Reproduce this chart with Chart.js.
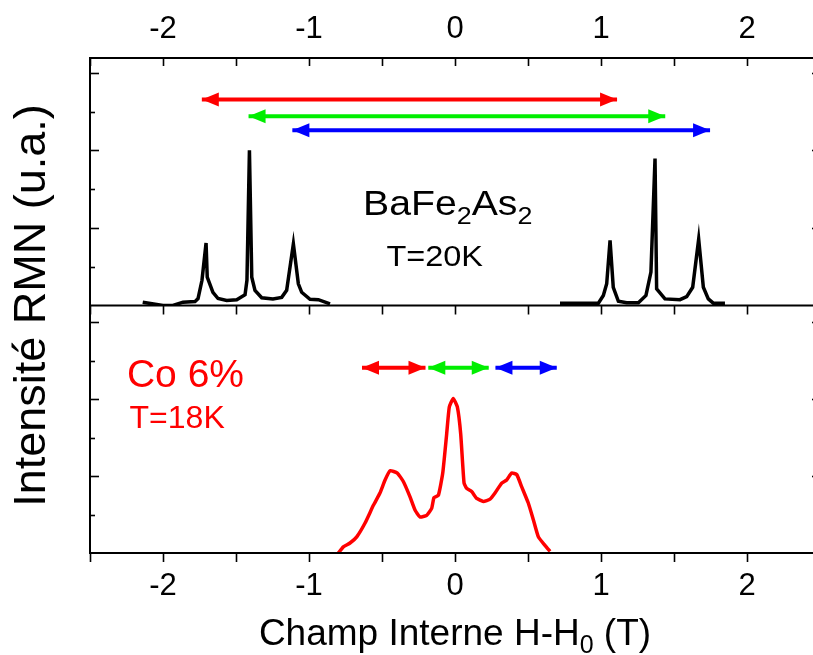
<!DOCTYPE html>
<html>
<head>
<meta charset="utf-8">
<script src="https://cdn.jsdelivr.net/npm/chart.js@4"></script>
<style>
html, body { margin: 0; padding: 0; background: #fff; overflow: hidden; }
#wrap { position: relative; width: 830px; height: 655px; }
</style>
</head>
<body>
<div id="wrap"><canvas id="myChart" width="830" height="655"></canvas></div>
<script>
// BaFe2As2, T=20K (top panel) - null splits the two groups
const bafeField = [-2.139, -2.0, -1.932, -1.863, -1.781, -1.760, -1.733, -1.705, -1.697, -1.658, -1.623, -1.564, -1.495, -1.438, -1.425, -1.408, -1.392, -1.370, -1.324, -1.247, -1.187, -1.153, -1.107, -1.073, -1.050, -0.993, -0.936, -0.856,
    0,
    0.719, 0.982, 1.016, 1.039, 1.062, 1.084, 1.119, 1.176, 1.256, 1.308, 1.342, 1.370, 1.381, 1.438, 1.541, 1.587, 1.628, 1.669, 1.701, 1.735, 1.769, 1.849];
const bafeIntensity = [0.085, 0.0, 0.0, 0.085, 0.10, 0.18, 0.65, 1.61, 0.73, 0.34, 0.18, 0.13, 0.15, 0.28, 0.65, 4.0, 0.73, 0.39, 0.20, 0.17, 0.21, 0.39, 1.59, 0.56, 0.34, 0.16, 0.15, 0.04,
    null,
    0.06, 0.06, 0.26, 0.56, 1.68, 0.47, 0.11, 0.07, 0.07, 0.26, 0.86, 3.79, 0.43, 0.17, 0.15, 0.23, 0.47, 1.71, 0.47, 0.17, 0.06, 0.06];

// Co 6%, T=18K (bottom panel)
const coField = [-0.799, -0.765, -0.719, -0.673, -0.616, -0.559, -0.514, -0.479, -0.445, -0.395, -0.354, -0.308, -0.274, -0.240, -0.194, -0.160, -0.144, -0.114, -0.084, -0.057, -0.039, -0.012, 0.016, 0.039, 0.062, 0.080, 0.114, 0.149, 0.194, 0.240, 0.274, 0.320, 0.354, 0.388, 0.423, 0.457, 0.502, 0.537, 0.571, 0.616, 0.651];
const coIntensity = [0.0, 0.08, 0.13, 0.21, 0.39, 0.62, 0.78, 0.95, 1.07, 1.04, 0.93, 0.73, 0.56, 0.47, 0.49, 0.58, 0.72, 0.75, 1.04, 1.55, 1.90, 2.01, 1.90, 1.55, 0.91, 0.84, 0.80, 0.71, 0.67, 0.70, 0.78, 0.91, 0.95, 1.04, 1.02, 0.86, 0.65, 0.43, 0.21, 0.10, 0.02];

// double arrows
const arrowColors = ['#ff0000', '#00ee00', '#0000ff'];
const topArrowStart = [-1.734, -1.414, -1.114];
const topArrowEnd = [1.11, 1.44, 1.747];
const topArrowLevel = [5.31, 4.88, 4.52];
const botArrowStart = [-0.637, -0.183, 0.277];
const botArrowEnd = [-0.202, 0.231, 0.697];
const botArrowLevel = [2.41, 2.41, 2.41];

const xTicks = [-2, -1, 0, 1, 2];

const FONT = "'Liberation Sans', Arial, Helvetica, sans-serif";

const toPoints = (xs, ys) => xs.map((x, i) => ({x: x, y: ys[i]}));

const datasets = [
    {
        data: toPoints(bafeField, bafeIntensity),
        yAxisID: 'yTop',
        borderColor: '#000',
        borderWidth: 3.5,
        pointRadius: 0,
        tension: 0,
        spanGaps: false
    },
    {
        data: toPoints(coField, coIntensity),
        yAxisID: 'yBot',
        borderColor: '#ff0000',
        borderWidth: 3.5,
        pointRadius: 0,
        tension: 0.15
    }
];

arrowColors.forEach((c, i) => {
    datasets.push({
        arrow: true,
        data: [{x: topArrowStart[i], y: topArrowLevel[i]}, {x: topArrowEnd[i], y: topArrowLevel[i]}],
        yAxisID: 'yTop', borderColor: c, backgroundColor: c, borderWidth: 4, pointRadius: 0
    });
    datasets.push({
        arrow: true,
        data: [{x: botArrowStart[i], y: botArrowLevel[i]}, {x: botArrowEnd[i], y: botArrowLevel[i]}],
        yAxisID: 'yBot', borderColor: c, backgroundColor: c, borderWidth: 4, pointRadius: 0
    });
});

function seg(ctx, x1, y1, x2, y2) {
    ctx.beginPath();
    ctx.moveTo(x1, y1);
    ctx.lineTo(x2, y2);
    ctx.stroke();
}

const arrowHeads = {
    id: 'arrowHeads',
    afterDatasetsDraw(chart) {
        const ctx = chart.ctx;
        chart.data.datasets.forEach((ds, i) => {
            if (!ds.arrow) return;
            const pts = chart.getDatasetMeta(i).data;
            const a = pts[0], b = pts[1];
            ctx.save();
            ctx.fillStyle = ds.borderColor;
            const len = 17, hw = 7;
            ctx.beginPath();
            ctx.moveTo(a.x, a.y);
            ctx.lineTo(a.x + len, a.y - hw);
            ctx.lineTo(a.x + len, a.y + hw);
            ctx.closePath();
            ctx.fill();
            ctx.beginPath();
            ctx.moveTo(b.x, b.y);
            ctx.lineTo(b.x - len, b.y - hw);
            ctx.lineTo(b.x - len, b.y + hw);
            ctx.closePath();
            ctx.fill();
            ctx.restore();
        });
    }
};

// draws text pieces [text, size, dy] one after another, slightly widened
function drawParts(ctx, parts, x0, y0, sx) {
    ctx.save();
    ctx.translate(x0, y0);
    ctx.scale(sx, 1);
    let px = 0;
    parts.forEach(p => {
        ctx.font = p[1] + 'px ' + FONT;
        ctx.fillText(p[0], px, p[2]);
        px += ctx.measureText(p[0]).width;
    });
    ctx.restore();
}

const frame = {
    id: 'frame',
    afterDraw(chart) {
        const {ctx, chartArea: a, scales} = chart;
        const x = scales.x, yt = scales.yTop, yb = scales.yBot;
        const mid = yt.bottom;
        ctx.save();
        ctx.strokeStyle = '#000';
        ctx.lineWidth = 2;
        ctx.strokeRect(a.left, a.top, a.right - a.left, a.bottom - a.top);
        seg(ctx, a.left, mid, a.right, mid);
        ctx.lineWidth = 1.6;
        for (let v = -2.5; v <= 2.5001; v += 0.5) {
            const px = Math.round(x.getPixelForValue(v)) + 0.5;
            seg(ctx, px, a.top, px, a.top + 8);
            seg(ctx, px, mid, px, mid + 9);
            seg(ctx, px, a.bottom, px, a.bottom + 9);
        }
        for (let v = 1; v <= 6; v++) {
            const py = Math.round(yt.getPixelForValue(v)) + 0.5;
            const major = v % 2 === 0;
            seg(ctx, a.left, py, a.left + (major ? 9 : 5), py);
            if (major) seg(ctx, a.right, py, a.right - 8, py);
        }
        for (let v = 0.5; v <= 3; v += 0.5) {
            const py = Math.round(yb.getPixelForValue(v)) + 0.5;
            const major = Number.isInteger(v);
            seg(ctx, a.left, py, a.left + (major ? 9 : 5), py);
            if (major) seg(ctx, a.right, py, a.right - 8, py);
        }
        ctx.restore();

        // labels
        ctx.save();
        ctx.fillStyle = '#000';
        ctx.textBaseline = 'alphabetic';
        ctx.textAlign = 'left';
        drawParts(ctx, [['BaFe', 35, 0], ['2', 24, 9], ['As', 35, 0], ['2', 24, 9]],
            x.getPixelForValue(-0.63), yt.getPixelForValue(2.33), 1.12);
        drawParts(ctx, [['T=20K', 29, 0]],
            x.getPixelForValue(-0.47), yt.getPixelForValue(1.01), 1.12);

        ctx.fillStyle = '#ff0000';
        drawParts(ctx, [['Co 6%', 39, 0]], x.getPixelForValue(-2.247), yb.getPixelForValue(2.16), 1);
        drawParts(ctx, [['T=18K', 32, 0]], x.getPixelForValue(-2.229), yb.getPixelForValue(1.62), 1);

        // x title with subscript
        ctx.fillStyle = '#000';
        const tparts = [['Champ Interne H-H', 37, 0], ['0', 25, 8], [' (T)', 37, 0]];
        let w = 0;
        tparts.forEach(p => { ctx.font = p[1] + 'px ' + FONT; w += ctx.measureText(p[0]).width; });
        drawParts(ctx, tparts, x.getPixelForValue(0) - w / 2, 645, 1);

        // y title
        ctx.translate(33, (a.top + a.bottom) / 2);
        ctx.rotate(-Math.PI / 2);
        ctx.textAlign = 'center';
        ctx.textBaseline = 'middle';
        ctx.font = '45px ' + FONT;
        ctx.fillText('Intensité RMN (u.a.)', 0, 0);
        ctx.restore();
    }
};

const tickOpts = {
    font: {family: FONT, size: 31},
    color: '#000',
    autoSkip: false,
    maxRotation: 0
};
const setXTicks = s => { s.ticks = xTicks.map(v => ({value: v})); };

const ctx = document.getElementById('myChart').getContext('2d');
const myChart = new Chart(ctx, {
    type: 'line',
    data: {datasets: datasets},
    options: {
        responsive: false,
        animation: false,
        devicePixelRatio: 1,
        layout: {padding: {left: 0, right: 10, top: 0, bottom: 0}},
        plugins: {legend: {display: false}, tooltip: {enabled: false}},
        scales: {
            x: {
                type: 'linear', position: 'bottom', min: -2.5, max: 2.5,
                grid: {display: false, drawTicks: false}, border: {display: false},
                ticks: Object.assign({}, tickOpts, {padding: 15}),
                afterBuildTicks: setXTicks,
                afterFit: s => { s.height = 102; }
            },
            x2: {
                type: 'linear', position: 'top', min: -2.5, max: 2.5,
                grid: {display: false, drawTicks: false}, border: {display: false},
                ticks: Object.assign({}, tickOpts, {padding: 10}),
                afterBuildTicks: setXTicks,
                afterFit: s => { s.height = 58; }
            },
            yBot: {
                type: 'linear', position: 'left', stack: 'panels', stackWeight: 1,
                min: 0, max: 3.22,
                grid: {display: false, drawTicks: false}, border: {display: false},
                ticks: {display: false},
                afterFit: s => { s.width = 90; }
            },
            yTop: {
                type: 'linear', position: 'left', stack: 'panels', stackWeight: 1,
                min: 0, max: 6.38,
                grid: {display: false, drawTicks: false}, border: {display: false},
                ticks: {display: false},
                afterFit: s => { s.width = 90; }
            }
        }
    },
    plugins: [arrowHeads, frame]
});
</script>
</body>
</html>
